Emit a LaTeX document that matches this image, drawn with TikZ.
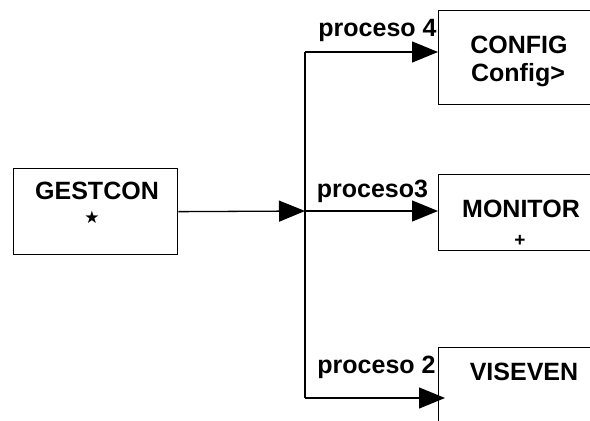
\documentclass[tikz,border=0pt]{standalone}
\usepackage{fontspec}
\setmainfont{Liberation Sans}
\newfontfamily\symfont{DejaVu Sans}
\usetikzlibrary{arrows.meta}
\begin{document}
\begin{tikzpicture}[x=1pt,y=-1pt,line width=1.3pt,
  box/.style={draw,rectangle,inner sep=0pt,anchor=north west},
  lbl/.style={font=\fontsize{25}{30}\selectfont\bfseries,inner sep=0pt,anchor=base},
  flow/.style={-{Triangle[length=26pt,width=21pt]}}]
\useasboundingbox (0,0) rectangle (590,421);
\clip (0,0) rectangle (590,421);

% process boxes (the right-hand ones run off the sheet)
\node[box,minimum width=164pt,minimum height=86pt] (gest) at (13,168) {};
\node[box,minimum width=170pt,minimum height=94.5pt] (config) at (438,9.5) {};
\node[box,minimum width=170pt,minimum height=76pt] (monitor) at (438,174) {};
\node[box,minimum width=170pt,minimum height=90pt] (viseven) at (438,347) {};

% box texts
\node[lbl] (tgest) at (97,199) {GESTCON};
\node[inner sep=0pt,font=\symfont\fontsize{17}{19}\selectfont] (tstar) at (92,217) {★};
\node[lbl] (tconfig) at (519,53) {CONFIG};
\node[lbl] (tconfig2) at (518,81) {Config>};
\node[lbl] (tmonitor) at (521,217) {MONITOR};
\node[inner sep=0pt,anchor=base,font=\fontsize{19}{22}\selectfont\bfseries] (tplus) at (520,246.5) {+};
\node[lbl] (tviseven) at (524,380) {VISEVEN};

% branching points
\coordinate (j) at (305,211);
\coordinate (j4) at (305,52);
\coordinate (j2) at (305,398);
\coordinate (t2) at (445,398);

% connectors
\draw[flow] (gest.east) -- (j);
\draw (j4) -- (j2);
\draw[flow] (j4) -- (config.west |- j4);
\draw[flow] (j) -- (monitor.west |- j);
\draw[flow] (j2) -- (t2);

% connector labels
\node[lbl] (p4) at (377.5,36) {proceso 4};
\node[lbl] (p3) at (372.5,197) {proceso3};
\node[lbl] (p2) at (376.5,373) {proceso 2};
\end{tikzpicture}
\end{document}
